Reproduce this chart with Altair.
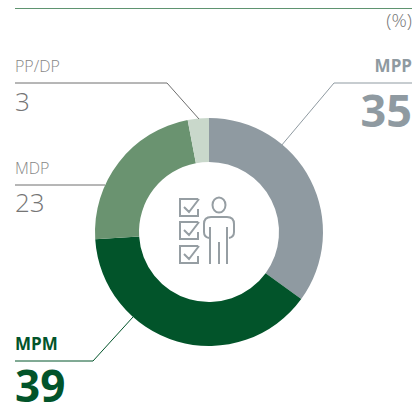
import altair as alt
import pandas as pd

W, H = 404, 397
OFF = 8  # page margin

cats = ["MPP", "MPM", "MDP", "PP/DP"]
vals = [35, 39, 23, 3]
cols = ["#8f9aa1", "#02542a", "#6a9370", "#c9d8cb"]

txt = ["(%)", "PP/DP", "3", "MPP", "35", "MDP", "23", "MPM", "39"]
txt_x = [412, 15, 15, 412, 412, 15, 15, 15, 15]
txt_y = [27, 72, 111, 72, 127, 174, 212, 350, 402]
txt_size = [19, 16, 26, 17, 45, 16, 26, 17, 44]
txt_col = ["#777777", "#858585", "#757575", "#8f9aa1", "#8f9aa1", "#858585", "#757575", "#02542a", "#02542a"]
txt_wt = [300, 300, 300, 700, 700, 300, 300, 700, 700]

lead_id = ["top", "top", "pp", "pp", "pp", "mpp", "mpp", "mpp", "mdp", "mdp", "mpm", "mpm", "mpm"]
lead_x = [15, 412, 15, 167, 199, 412, 334, 281, 15, 105, 15, 93, 133]
lead_y = [8.5, 8.5, 83, 83, 119, 83, 83, 146, 185, 185, 361, 361, 317]
lead_col = {"top": "#5f9470", "pp": "#6e6e6e", "mpp": "#8f9aa1", "mdp": "#6e6e6e", "mpm": "#02542a"}

ICON = ("M198 199H180V216H198V209M184 207L189 212L199 199 "
        "M198 222H180V239H198V232M184 230L189 235L199 222 "
        "M198 246H180V263H198V256M184 254L189 259L199 246 "
        "M212.5 205A6.5 7.5 0 1 0 225.5 205A6.5 7.5 0 1 0 212.5 205 "
        "M209 238Q204 237 204 232V224Q204 217 211 217H227Q234 217 234 224V232Q234 237 229 238 "
        "M210 227V264M219 242V264M227 227V264")
icon_x = [0]
icon_y = [0]

sx = alt.Scale(domain=[OFF, W + OFF], range=[0, W])
sy = alt.Scale(domain=[OFF, H + OFF], range=[0, H])

arc = alt.Chart(pd.DataFrame({"c": cats, "v": vals, "i": range(4)})).mark_arc(
    innerRadius=70, outerRadius=114
).encode(
    theta=alt.Theta("v:Q", stack=True),
    order=alt.Order("i:Q"),
    color=alt.Color("c:N", scale=alt.Scale(domain=cats, range=cols), legend=None),
    x=alt.value(209 - OFF),
    y=alt.value(232 - OFF),
)

lead_df = pd.DataFrame({"id": lead_id, "x": lead_x, "y": lead_y, "o": range(len(lead_x))})
lead = alt.Chart(lead_df).mark_line(strokeWidth=1, clip=False).encode(
    x=alt.X("x:Q", scale=sx, axis=None),
    y=alt.Y("y:Q", scale=sy, axis=None),
    order="o:Q",
    detail="id:N",
    color=alt.Color("id:N", scale=alt.Scale(domain=list(lead_col), range=list(lead_col.values())), legend=None),
)

text_df = pd.DataFrame({"t": txt, "x": txt_x, "y": txt_y, "s": txt_size, "c": txt_col, "w": txt_wt})
layers = []
for row in text_df.to_dict("records"):
    layers.append(
        alt.Chart(pd.DataFrame([row])).mark_text(
            font="Open Sans", fontSize=row["s"], fontWeight=row["w"], color=row["c"],
            align="right" if row["x"] > 300 else "left", baseline="alphabetic",
        ).encode(x=alt.X("x:Q", scale=sx, axis=None), y=alt.Y("y:Q", scale=sy, axis=None), text="t:N")
    )

icon = alt.Chart(pd.DataFrame({"x": icon_x, "y": icon_y})).mark_point(
    shape=ICON, size=4, stroke="#969ea3", strokeWidth=2, fill=None, opacity=1, clip=False
).encode(x=alt.X("x:Q", scale=sx, axis=None), y=alt.Y("y:Q", scale=sy, axis=None))

chart = alt.layer(arc, lead, icon, *layers).resolve_scale(color="independent").properties(
    width=W, height=H, padding=0, autosize=alt.AutoSizeParams(type="none")
).configure_view(stroke=None)

chart.save("out.html", embed_options={"renderer": "svg", "actions": False})
